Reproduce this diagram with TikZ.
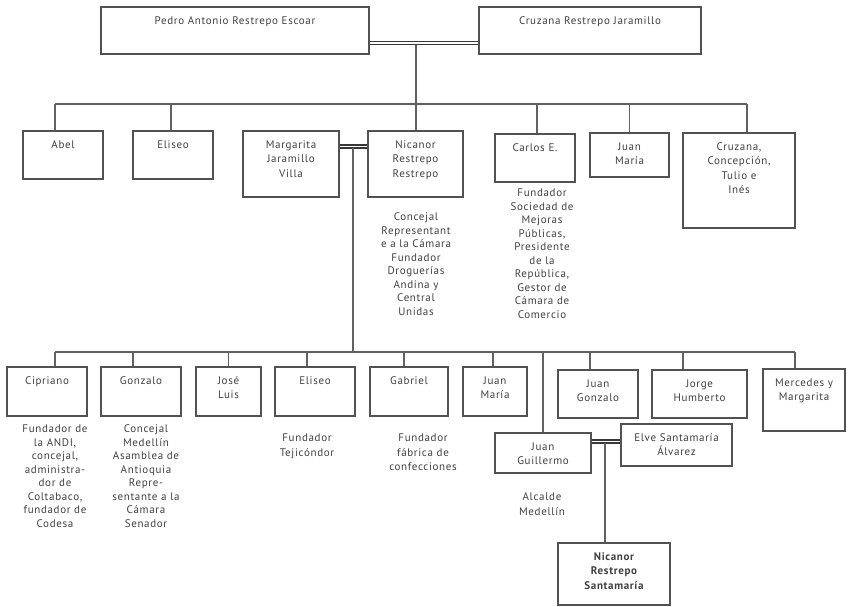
\documentclass[tikz,border=0pt]{standalone}
\usepackage{fontspec}
\setmainfont{PT Sans}[LetterSpace=6]
\usetikzlibrary{positioning}

\begin{document}
\begin{tikzpicture}[
      x=1pt, y=-1pt,
      font=\fontsize{11}{14.5}\selectfont,
      person/.style={draw=black!68, line width=1.4pt, inner sep=0pt},
      who/.style={anchor=base, align=center, text width=260pt, inner sep=0pt,
        text=black!75, yshift=-18pt},
      note/.style={anchor=base, align=center, text width=110pt, inner sep=0pt,
        text=black!75, font=\fontsize{11}{13.5}\selectfont},
      shortnote/.style={note, font=\fontsize{11}{14.5}\selectfont},
      link/.style={draw=black!62, line width=1.3pt},
      couple/.style={draw=black!78, line width=1.2pt, double=white, double distance=1.8pt}
    ]
    \useasboundingbox (0,0) rectangle (848,607);

    % parents
    \node[person, minimum width=268pt, minimum height=47pt,
      label={[who]north:{Pedro Antonio Restrepo Escoar}}] (pedro) at (235,30.5) {};
    \node[person, minimum width=222pt, minimum height=47pt,
      label={[who]north:{Cruzana Restrepo Jaramillo}}] (cruzana) at (590,30.5) {};

    % first generation
    \node[person, minimum width=80pt, minimum height=48pt,
      label={[who]north:{Abel}}] (abel) at (63,155) {};
    \node[person, minimum width=80pt, minimum height=48pt,
      label={[who]north:{Eliseo}}] (eliseoa) at (173,155) {};
    \node[person, minimum width=96pt, minimum height=66pt,
      label={[who]north:{Margarita\\Jaramillo\\Villa}}] (margarita) at (291,164) {};
    \node[person, minimum width=95pt, minimum height=66pt,
      label={[who]north:{Nicanor\\Restrepo\\Restrepo}}] (nicanor) at (415.5,164) {};
    \node[person, minimum width=80pt, minimum height=48pt,
      label={[who]north:{Carlos E.}}] (carlos) at (535,158) {};
    \node[person, minimum width=79pt, minimum height=44pt,
      label={[who]north:{Juan\\María}}] (juanmariaa) at (629.5,155) {};
    \node[person, minimum width=112pt, minimum height=95pt,
      label={[who]north:{Cruzana,\\Concepción,\\Tulio e\\Inés}}] (cruzanac) at (739,180.5) {};

    \node[note] (nicanornote) at (416,220.5) {Concejal\\Representant\\e a la Cámara\\Fundador\\Droguerías\\Andina y\\Central\\Unidas};
    \node[note] (carlosnote) at (542,196.5) {Fundador\\Sociedad de\\Mejoras\\Públicas,\\Presidente\\de la\\República,\\Gestor de\\Cámara de\\Comercio};

    % second generation
    \node[person, minimum width=80pt, minimum height=49pt,
      label={[who]north:{Cipriano}}] (cipriano) at (47,391.5) {};
    \node[person, minimum width=80pt, minimum height=49pt,
      label={[who]north:{Gonzalo}}] (gonzalo) at (141,391.5) {};
    \node[person, minimum width=65pt, minimum height=49pt,
      label={[who]north:{José\\Luis}}] (joseluis) at (228.5,391.5) {};
    \node[person, minimum width=80pt, minimum height=49pt,
      label={[who]north:{Eliseo}}] (eliseob) at (315,391.5) {};
    \node[person, minimum width=78pt, minimum height=49pt,
      label={[who]north:{Gabriel}}] (gabriel) at (409,391.5) {};
    \node[person, minimum width=64pt, minimum height=49pt,
      label={[who]north:{Juan\\María}}] (juanmariab) at (495,391.5) {};
    \node[person, minimum width=80pt, minimum height=48pt,
      label={[who]north:{Juan\\Gonzalo}}] (juangonzalo) at (598,394) {};
    \node[person, minimum width=95pt, minimum height=48pt,
      label={[who]north:{Jorge\\Humberto}}] (jorge) at (699.5,394) {};
    \node[person, minimum width=82pt, minimum height=62pt,
      label={[who]north:{Mercedes y\\Margarita}}] (mercedes) at (804,400) {};
    \node[person, minimum width=96pt, minimum height=40pt,
      label={[who]north:{Juan\\Guillermo}}] (juanguillermo) at (543,453) {};
    \node[person, minimum width=111pt, minimum height=42pt,
      label={[who]north:{Elve Santamaría\\Álvarez}}] (elve) at (676.5,445) {};

    \node[note] (ciprianonote) at (55,432.5) {Fundador de\\la ANDI,\\concejal,\\administra-\\dor de\\Coltabaco,\\fundador de\\Codesa};
    \node[note] (gonzalonote) at (146,432.5) {Concejal\\Medellín\\Asamblea de\\Antioquia\\Repre-\\sentante a la\\Cámara\\Senador};
    \node[shortnote] (eliseonote) at (307,441.5) {Fundador\\Tejicóndor};
    \node[shortnote] (gabrielnote) at (423,441.5) {Fundador\\fábrica de\\confecciones};
    \node[shortnote] (juanguillermonote) at (542,500.5) {Alcalde\\Medellín};

    % third generation
    \node[person, minimum width=112pt, minimum height=62pt,
      label={[who, font=\fontsize{11}{14.5}\selectfont\bfseries]north:{Nicanor\\Restrepo\\Santamaría}}] (nicanorrs) at (614,574) {};

    % rails and joins
    \coordinate (rowa) at (0,104);
    \coordinate (rowb) at (0,352);
    \coordinate (topjoin) at (416,45);
    \coordinate (midjoin) at (353,148);
    \coordinate (lowjoin) at (605,443);

    \draw[couple] ([yshift=-12.5pt]pedro.east) -- ([yshift=-12.5pt]pedro.east -| cruzana.west);
    \draw[couple] ([yshift=17.5pt]margarita.east) -- ([yshift=17.5pt]margarita.east -| nicanor.west);
    \draw[couple] ([yshift=11.5pt]juanguillermo.east) -- ([yshift=11.5pt]juanguillermo.east -| elve.west);

    \draw[link] ([xshift=-8pt]abel.north |- rowa) -- ([xshift=8pt]cruzanac.north |- rowa);
    \draw[link] (topjoin) -- (topjoin |- nicanor.north);
    \draw[link] ([xshift=-8pt]abel.north) -- ([xshift=-8pt]abel.north |- rowa);
    \draw[link] ([xshift=-2pt]eliseoa.north) -- ([xshift=-2pt]eliseoa.north |- rowa);
    \draw[link] ([xshift=2pt]carlos.north) -- ([xshift=2pt]carlos.north |- rowa);
    \draw[link] (juanmariaa.north) -- (juanmariaa.north |- rowa);
    \draw[link] ([xshift=8pt]cruzanac.north) -- ([xshift=8pt]cruzanac.north |- rowa);

    \draw[link] ([xshift=8pt]cipriano.north |- rowb) -- ([xshift=-9pt]mercedes.north |- rowb);
    \draw[link] (midjoin) -- (midjoin |- rowb);
    \draw[link] ([xshift=8pt]cipriano.north) -- ([xshift=8pt]cipriano.north |- rowb);
    \draw[link] ([xshift=-8pt]gonzalo.north) -- ([xshift=-8pt]gonzalo.north |- rowb);
    \draw[link] (joseluis.north) -- (joseluis.north |- rowb);
    \draw[link] ([xshift=-8pt]eliseob.north) -- ([xshift=-8pt]eliseob.north |- rowb);
    \draw[link] ([xshift=-5pt]gabriel.north) -- ([xshift=-5pt]gabriel.north |- rowb);
    \draw[link] ([xshift=-2pt]juanmariab.north) -- ([xshift=-2pt]juanmariab.north |- rowb);
    \draw[link] (juanguillermo.north) -- (juanguillermo.north |- rowb);
    \draw[link] ([xshift=-8pt]juangonzalo.north) -- ([xshift=-8pt]juangonzalo.north |- rowb);
    \draw[link] ([xshift=-16.5pt]jorge.north) -- ([xshift=-16.5pt]jorge.north |- rowb);
    \draw[link] ([xshift=-9pt]mercedes.north) -- ([xshift=-9pt]mercedes.north |- rowb);

    \draw[link] (lowjoin) -- (lowjoin |- nicanorrs.north);
  \end{tikzpicture}
\end{document}
